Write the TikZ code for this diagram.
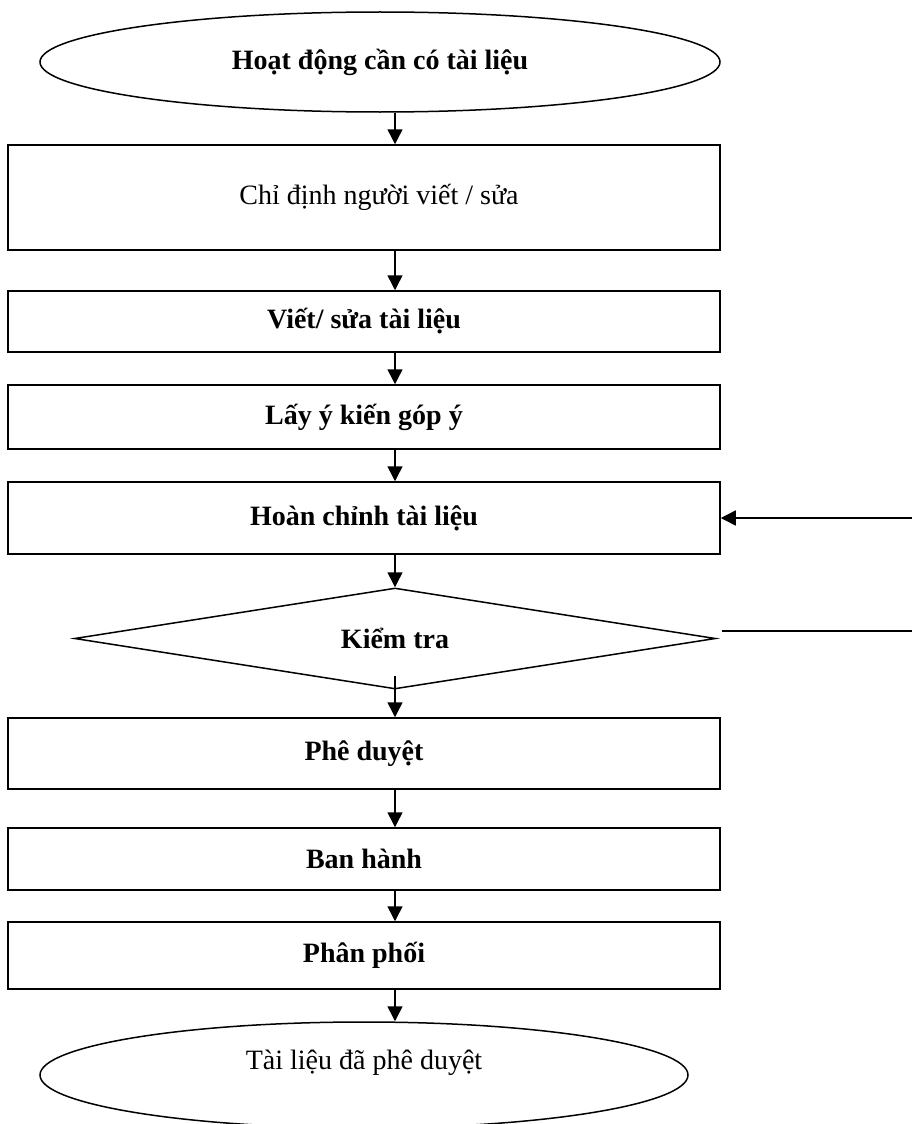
\documentclass[tikz,border=0pt]{standalone}
\usepackage{fontspec}
\setmainfont{Liberation Serif}
\usetikzlibrary{
arrows.meta,
shapes,
shapes.geometric
}

\begin{document}
\begin{tikzpicture}[
    x=1pt, y=-1pt,
    >={Triangle[width=15pt,length=15pt]},
    every node/.style={draw, line width=1.5pt, font=\fontsize{28}{32}\selectfont, inner sep=0pt},
    every edge/.style={draw, ->, line width=1.5pt},
    stepbox/.style={rectangle, minimum width=712pt, font=\fontsize{28}{32}\selectfont\bfseries},
    terminal/.style={ellipse},
    check/.style={diamond, aspect=6.35, minimum width=641pt, minimum height=101pt, font=\fontsize{28}{32}\selectfont\bfseries}]
  \useasboundingbox (0,0) rectangle (914,1124);
  \node[terminal, minimum width=680pt, minimum height=100pt, font=\fontsize{28}{32}\selectfont\bfseries] (start) at (380,62) {Hoạt động cần có tài liệu};
  \node[stepbox, minimum height=105pt, font=\fontsize{28}{32}\selectfont] (assign) at (364,197.5) {\hspace*{30pt}Chỉ định người viết / sửa};
  \node[stepbox, minimum height=61pt] (write) at (364,321.5) {Viết/ sửa tài liệu};
  \node[stepbox, minimum height=64pt] (review) at (364,417) {Lấy ý kiến góp ý};
  \node[stepbox, minimum height=72pt] (finish) at (364,518) {Hoàn chỉnh tài liệu};
  \node[check] (chk) at (395,638.5) {Kiểm tra};
  \node[stepbox, minimum height=71pt] (approve) at (364,753.5) {Phê duyệt};
  \node[stepbox, minimum height=62pt] (issue) at (364,859) {Ban hành};
  \node[stepbox, minimum height=67pt] (distr) at (364,955.5) {Phân phối};
  \node[terminal, minimum width=648pt, minimum height=106pt, text depth=30pt] (done) at (364,1075) {Tài liệu đã phê duyệt};
  \coordinate (backin) at (912,518);
  \coordinate (backout) at (912,631);
  \draw
      (start.south -| chk) edge (assign.north -| chk)
      (assign.south -| chk) edge (write.north -| chk)
      (write.south -| chk) edge (review.north -| chk)
      (review.south -| chk) edge (finish.north -| chk)
      (finish.south -| chk) edge (chk.north)
      ([yshift=14pt]chk.south) edge (approve.north -| chk)
      (approve.south -| chk) edge (issue.north -| chk)
      (issue.south -| chk) edge (distr.north -| chk)
      (distr.south -| chk) edge (done.north -| chk)
      (backin) edge (finish.east);
  \draw[line width=1.5pt] ([xshift=6pt]chk.east |- backout) -- (backout);
\end{tikzpicture}
\end{document}
